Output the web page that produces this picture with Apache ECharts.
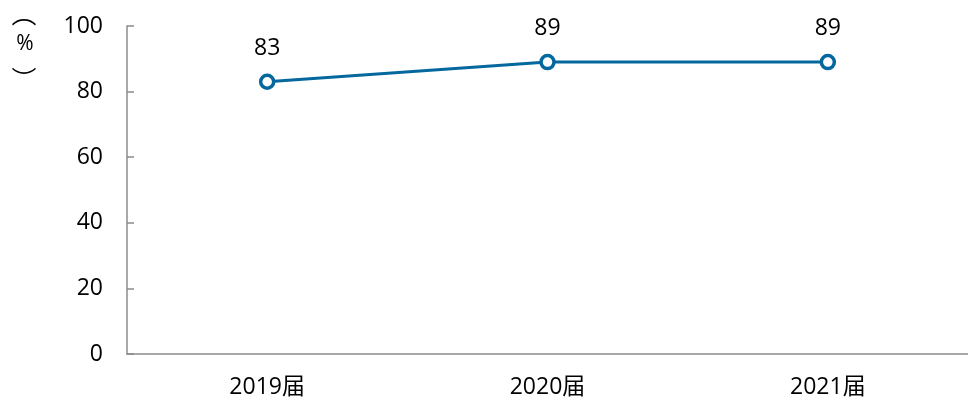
<!DOCTYPE html>
<html><head><meta charset="utf-8">
<script src="https://cdn.jsdelivr.net/npm/echarts@6/dist/echarts.min.js"></script>
<style>html,body{margin:0;padding:0;background:#fff}#c{width:968px;height:403px}</style>
</head><body><div id="c"></div>
<script>
const categories = ['2019届', '2020届', '2021届'];
const values = [83, 89, 89];
const yTicks = [0, 20, 40, 60, 80, 100];
const unitParts = ['︵', '%', '︶'];

const chart = echarts.init(document.getElementById('c'));
const font = '"Open Sans", "Noto Sans CJK SC", sans-serif';
const unitY = [13, 44, 79];
const unitX = [24, 25, 24];
chart.setOption({
  animation: false,
  grid: { left: 127, top: 26, width: 845, height: 328, containLabel: false },
  xAxis: {
    type: 'category', data: categories, boundaryGap: true,
    axisLine: { lineStyle: { color: '#8c8c8c', width: 1.5 } },
    axisTick: { inside: true, length: 8, lineStyle: { color: '#8c8c8c', width: 1.5 } },
    axisLabel: { color: '#000', fontSize: 23, margin: 22, fontFamily: font }
  },
  yAxis: {
    type: 'value', min: yTicks[0], max: yTicks[yTicks.length - 1], interval: 20,
    axisLine: { show: true, lineStyle: { color: '#8c8c8c', width: 1.5 } },
    axisTick: { show: true, inside: true, length: 7, lineStyle: { color: '#8c8c8c', width: 1.5 } },
    splitLine: { show: false },
    axisLabel: { color: '#000', fontSize: 23, margin: 24, fontFamily: font }
  },
  graphic: unitParts.map((t, i) => ({
    type: 'text', x: unitX[i], y: unitY[i],
    style: { text: t, fill: '#000', fontSize: i === 1 ? 21 : 25, align: 'center', verticalAlign: 'middle',
             fontFamily: i === 1 ? '"Open Sans", sans-serif' : '"Noto Sans CJK SC", sans-serif' }
  })),
  series: [{
    type: 'line', data: values,
    symbol: 'circle', symbolSize: 13,
    lineStyle: { color: '#04689f', width: 3 },
    itemStyle: { color: '#fff', borderColor: '#04689f', borderWidth: 3.5 },
    label: { show: true, position: 'top', distance: 14, color: '#000', fontSize: 23, fontFamily: font }
  }]
});
</script></body></html>
